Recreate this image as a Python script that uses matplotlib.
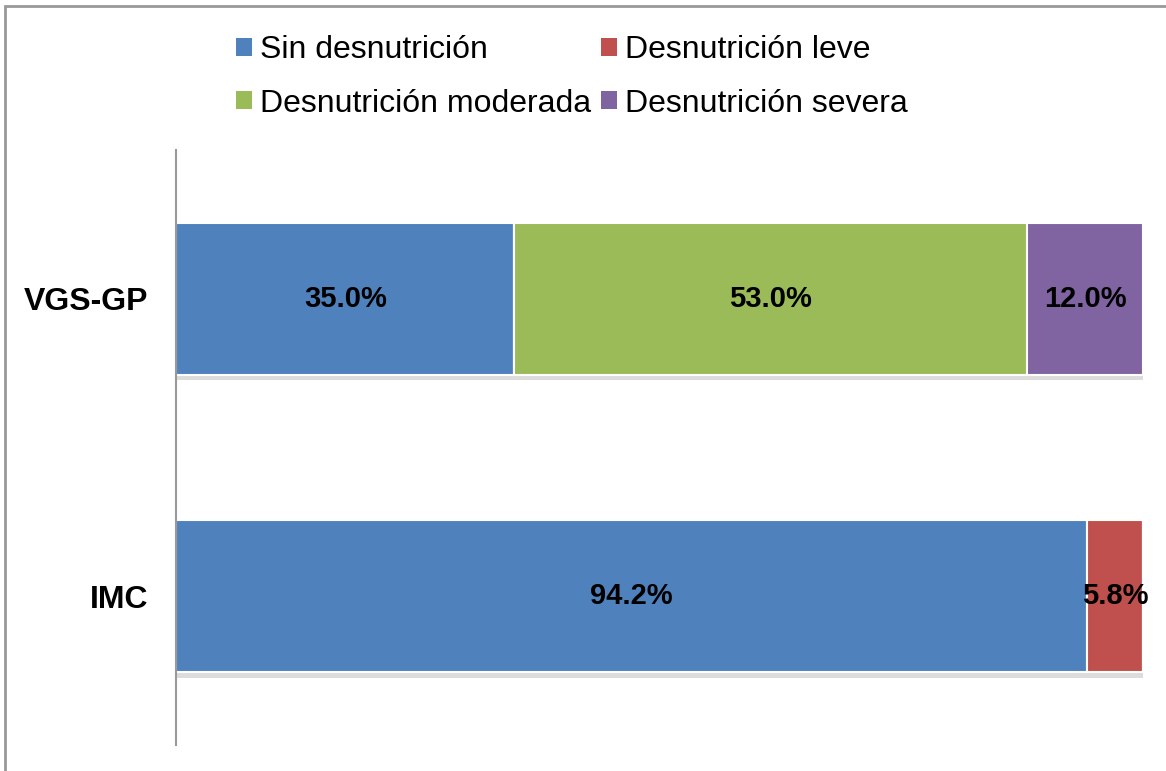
import matplotlib.pyplot as plt
import matplotlib.patheffects as pe
from matplotlib.patches import Rectangle, Patch

categories = ["IMC", "VGS-GP"]
series_names = ["Sin desnutrición", "Desnutrición leve",
                "Desnutrición moderada", "Desnutrición severa"]
# values per series, in order of categories (IMC, VGS-GP)
sin_desnutricion = [94.2, 35.0]
desnutricion_leve = [5.8, 0.0]
desnutricion_moderada = [0.0, 53.0]
desnutricion_severa = [0.0, 12.0]
colors = ["#4F81BD", "#C0504D", "#9BBB59", "#8064A2"]

plt.rcParams["font.family"] = ["Liberation Sans", "DejaVu Sans"]

fig = plt.figure(figsize=(11.66, 7.71), dpi=100)
ax = fig.add_axes([176 / 1166, 26 / 771, 967 / 1166, 595 / 771])

series = [sin_desnutricion, desnutricion_leve,
          desnutricion_moderada, desnutricion_severa]
ypos = list(range(len(categories)))
left = [0.0] * len(categories)
shadow = [pe.SimplePatchShadow(offset=(1, -4), alpha=0.25, shadow_rgbFace="#777777"),
          pe.Normal()]
for name, vals, col in zip(series_names, series, colors):
    bars = ax.barh(ypos, vals, left=left, height=0.51, color=col,
                   edgecolor="white", linewidth=1.5)
    for b in bars:
        b.set_path_effects(shadow)
    for i, v in enumerate(vals):
        if v > 0:
            ax.text(left[i] + v / 2, ypos[i], f"{v:.1f}%", ha="center",
                    va="center", fontsize=21, fontweight="bold", color="black")
    left = [l + v for l, v in zip(left, vals)]

ax.set_xlim(0, 100)
ax.set_ylim(-0.5, 1.5)
ax.set_yticks(ypos)
ax.set_yticklabels(categories, fontsize=23, fontweight="bold")
ax.tick_params(axis="y", length=0, pad=20)
ax.set_xticks([])
for s in ["top", "right", "bottom"]:
    ax.spines[s].set_visible(False)
ax.spines["left"].set_color("#999999")
ax.spines["left"].set_linewidth(1.5)

# legend order: row 1 = Sin, leve ; row 2 = moderada, severa
order = [0, 2, 1, 3]
proxies = [Patch(facecolor=colors[i]) for i in order]
fig.legend(proxies, [series_names[i] for i in order],
           loc="upper left", bbox_to_anchor=(214 / 1166, 1 - 13 / 771),
           ncol=2, frameon=False, fontsize=23, handlelength=0.5,
           handleheight=0.5, handletextpad=0.25, columnspacing=0.3,
           labelspacing=0.73, borderpad=0.2)

# outer chart frame
fig.add_artist(Rectangle((5 / 1166, -0.1), 1.5, 1 - 6 / 771 + 0.1,
                         transform=fig.transFigure, fill=False,
                         edgecolor="#999999", linewidth=2))

fig.savefig("out.png", dpi=100)
